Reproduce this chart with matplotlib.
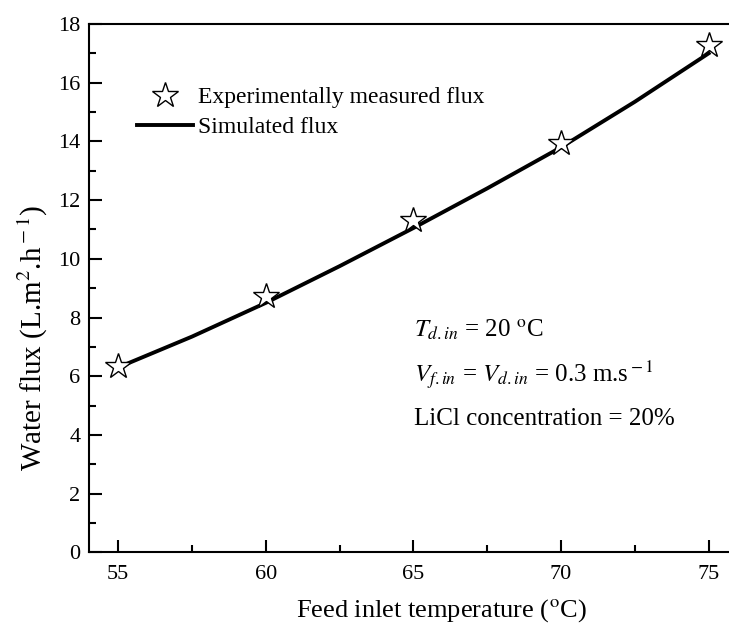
import matplotlib
matplotlib.use("Agg")
import matplotlib.pyplot as plt
from matplotlib.ticker import MultipleLocator

plt.rcParams['font.family'] = ['Liberation Serif', 'DejaVu Serif']
plt.rcParams['mathtext.fontset'] = 'stix'

# measured points
temp_exp = [55, 60, 65, 70, 75]
flux_exp = [6.35, 8.74, 11.32, 13.96, 17.28]

# simulated curve
temp_sim = [55, 57.5, 60, 62.5, 65, 67.5, 70, 72.5, 75]
flux_sim = [6.3, 7.35, 8.5, 9.75, 11.05, 12.4, 13.8, 15.35, 17.0]

fig = plt.figure(figsize=(7.29, 6.25), dpi=100)
ax = fig.add_axes([0.1217, 0.1163, 1 - 0.1217, 0.8453])

ax.plot(temp_sim, flux_sim, color='black', lw=2.8, label='Simulated flux', zorder=2)
ax.plot(temp_exp, flux_exp, ls='none', marker='*', ms=19, mfc='white', mec='black',
        mew=1.0, label='Experimentally measured flux', zorder=3)

ax.set_xlim(54, 75.69)
ax.set_ylim(0, 18)
ax.xaxis.set_major_locator(MultipleLocator(5))
ax.xaxis.set_minor_locator(MultipleLocator(2.5))
ax.yaxis.set_major_locator(MultipleLocator(2))
ax.yaxis.set_minor_locator(MultipleLocator(1))
ax.tick_params(which='both', direction='in', width=1.5, labelsize=16, top=False, right=False)
ax.tick_params(which='major', length=9)
ax.tick_params(which='minor', length=5)
ax.tick_params(axis='x', which='major', pad=9)
ax.tick_params(axis='y', which='major', pad=6)
for s in ['left', 'bottom', 'top']:
    ax.spines[s].set_linewidth(1.5)
ax.spines['right'].set_visible(False)

ax.set_xlabel('Feed inlet temperature ($^{\\rm o}$C)', fontsize=19, labelpad=14)
ax.set_ylabel('Water flux (L.m$^{2}$.h$^{\\rm -1}$)', fontsize=21, labelpad=6)
ax.xaxis.set_label_coords(0.551, -0.085)
ax.yaxis.get_label().set_y(0.405)

h, l = ax.get_legend_handles_labels()
ax.legend(h[::-1], l[::-1], loc='upper left', bbox_to_anchor=(0.075, 0.881), frameon=False,
          fontsize=17, handlelength=2.4, handletextpad=0.2, labelspacing=0.35,
          borderpad=0, borderaxespad=0)

ax.text(0.508, 0.408, '$T_{d.in}$ = 20 $^{\\rm o}$C', transform=ax.transAxes, fontsize=18)
ax.text(0.508, 0.321, '$V_{f.in}$ = $V_{d.in}$ = 0.3 m.s$^{\\rm -1}$', transform=ax.transAxes, fontsize=18)
ax.text(0.508, 0.241, 'LiCl concentration = 20%', transform=ax.transAxes, fontsize=18)

fig.savefig('out.png', dpi=100)
